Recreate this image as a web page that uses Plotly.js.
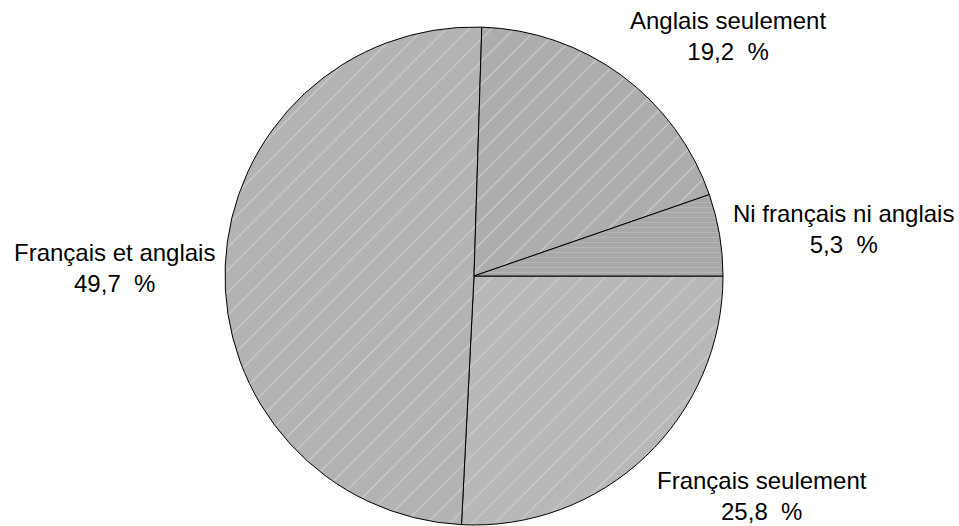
<!DOCTYPE html>
<html>
<head>
<meta charset="utf-8">
<script src="https://cdn.plot.ly/plotly-3.0.1.min.js"></script>
<style>html,body{margin:0;padding:0;background:#fff;}#chart{width:959px;height:526px;}</style>
</head>
<body>
<div id="chart"></div>
<script>
// Data (clockwise from 3 o'clock)
const categories = ["Français seulement", "Français et anglais", "Anglais seulement", "Ni français ni anglais"];
const percentages = [25.8, 49.7, 19.2, 5.3];

// Styles
const sliceColors = ["#b8b8b8", "#b3b3b3", "#adadad", "#a8a8a8"];
const patternShapes = ["/", "/", "/", "-"];
const patternSizes = [16, 16, 16, 5];
// label centres in pixels (x, y)
const labelPos = [[762, 496], [114, 268], [728, 36], [843, 229]];

const W = 959, H = 526;
const cx = 474, cy = 276, r = 249;

const trace = {
  type: "pie",
  values: percentages,
  labels: categories,
  sort: false,
  direction: "clockwise",
  rotation: 90,
  textinfo: "none",
  hoverinfo: "label+percent",
  marker: {
    colors: sliceColors,
    line: {color: "#000000", width: 1},
    pattern: {
      shape: patternShapes,
      size: patternSizes,
      solidity: 0.07,
      fgcolor: "#cfcfcf",
      bgcolor: sliceColors,
      fillmode: "replace"
    }
  },
  domain: {
    x: [(cx - r) / W, (cx + r) / W],
    y: [(H - cy - r) / H, (H - cy + r) / H]
  },
  showlegend: false
};

function fmt(v) { return v.toFixed(1).replace(".", ",") + "  %"; }

const annotations = categories.map((c, i) => ({
  xref: "paper", yref: "paper",
  x: labelPos[i][0] / W, y: 1 - labelPos[i][1] / H,
  xanchor: "center", yanchor: "middle",
  text: c + "<br>" + fmt(percentages[i]),
  showarrow: false,
  align: "center",
  font: {family: "Liberation Sans, Arial, sans-serif", size: 24, color: "#000000"}
}));

const layout = {
  width: W, height: H,
  margin: {l: 0, r: 0, t: 0, b: 0},
  paper_bgcolor: "#ffffff",
  plot_bgcolor: "#ffffff",
  showlegend: false,
  annotations: annotations
};

Plotly.newPlot("chart", [trace], layout, {displayModeBar: false, staticPlot: true});
</script>
</body>
</html>
